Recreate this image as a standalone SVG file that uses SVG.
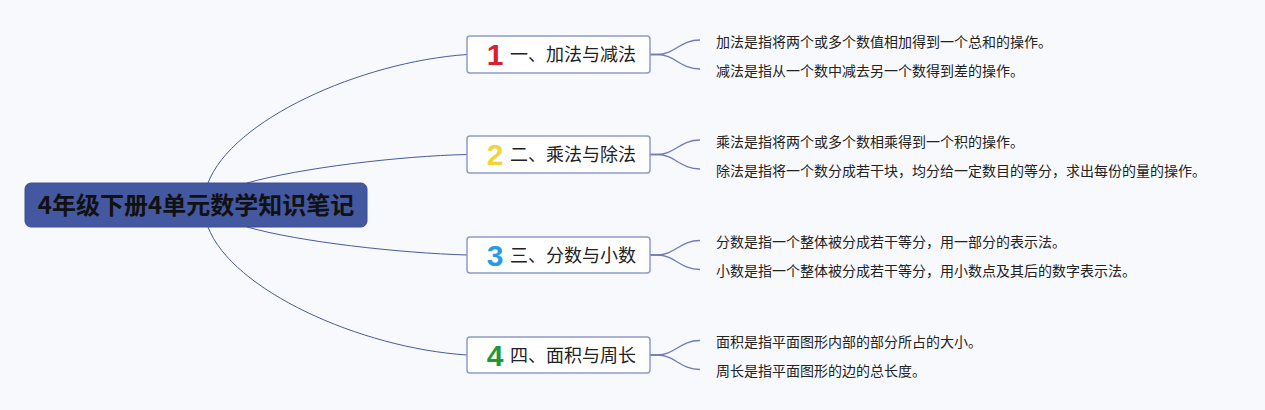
<svg xmlns="http://www.w3.org/2000/svg" width="1265" height="410" viewBox="0 0 1265 410">
<style>
.bg{fill:#f8f9fc}
.root{fill:#4358a0;stroke:#3a4f94;stroke-width:1}
.rootText{font-family:"Noto Sans CJK SC","Liberation Sans",sans-serif;font-weight:bold;font-size:24px;fill:#111;text-anchor:middle}
.box{fill:#ffffff;stroke:#8e9acb;stroke-width:1.5}
.bt{font-family:"Noto Sans CJK SC","Noto Sans",sans-serif;font-size:18px;fill:#222}
.num{font-family:"Liberation Sans","Noto Sans",sans-serif;font-weight:bold;font-size:30px;text-anchor:middle}
.leaf{font-family:"Noto Sans CJK SC","Noto Sans",sans-serif;font-size:14px;fill:#222}
.main{fill:none;stroke:#4a5a98;stroke-width:1}
.sub{fill:none;stroke:#6f7cb6;stroke-width:1.3}
</style>
<rect class="bg" x="0" y="0" width="1265" height="410"/>
<g id="connectors">
<path class="main" d="M208,183 C232,120 360,62 467,54.5"/>
<path class="main" d="M247,183 C300,168 400,156 467,154.5"/>
<path class="main" d="M247,227 C300,242 400,253 467,255"/>
<path class="main" d="M208,227 C232,290 360,348 467,355"/>
<path class="sub" d="M650,54.5 L657,54.5 C675,54.5 680,40 700,40"/>
<path class="sub" d="M650,54.5 L657,54.5 C675,54.5 680,69 700,69"/>
<path class="sub" d="M650,154.5 L657,154.5 C675,154.5 680,140 700,140"/>
<path class="sub" d="M650,154.5 L657,154.5 C675,154.5 680,169 700,169"/>
<path class="sub" d="M650,255 L657,255 C675,255 680,240.5 700,240.5"/>
<path class="sub" d="M650,255 L657,255 C675,255 680,269.5 700,269.5"/>
<path class="sub" d="M650,355 L657,355 C675,355 680,340.5 700,340.5"/>
<path class="sub" d="M650,355 L657,355 C675,355 680,369.5 700,369.5"/>
</g>
<g id="root">
<rect class="root" x="25" y="183" width="342" height="44" rx="6"/>
<text class="rootText" x="196" y="214">4年级下册4单元数学知识笔记</text>
</g>
<g id="branch1">
<rect class="box" x="467" y="36" width="183" height="37" rx="3"/>
<text class="num" x="495" y="65" fill="#d8202f">1</text>
<text class="bt" x="510" y="61">一、加法与减法</text>
</g>
<g id="branch2">
<rect class="box" x="467" y="136" width="183" height="37" rx="3"/>
<text class="num" x="495" y="165" fill="#f1d33c">2</text>
<text class="bt" x="510" y="161">二、乘法与除法</text>
</g>
<g id="branch3">
<rect class="box" x="467" y="237" width="183" height="36" rx="3"/>
<text class="num" x="495" y="266" fill="#2b9be0">3</text>
<text class="bt" x="510" y="261.5">三、分数与小数</text>
</g>
<g id="branch4">
<rect class="box" x="467" y="337" width="183" height="36" rx="3"/>
<text class="num" x="495" y="366" fill="#1e9a34">4</text>
<text class="bt" x="510" y="361.5">四、面积与周长</text>
</g>
<g id="leaf1a"><text class="leaf" x="716" y="47">加法是指将两个或多个数值相加得到一个总和的操作。</text></g>
<g id="leaf1b"><text class="leaf" x="716" y="76">减法是指从一个数中减去另一个数得到差的操作。</text></g>
<g id="leaf2a"><text class="leaf" x="716" y="147">乘法是指将两个或多个数相乘得到一个积的操作。</text></g>
<g id="leaf2b"><text class="leaf" x="716" y="176">除法是指将一个数分成若干块，均分给一定数目的等分，求出每份的量的操作。</text></g>
<g id="leaf3a"><text class="leaf" x="716" y="247">分数是指一个整体被分成若干等分，用一部分的表示法。</text></g>
<g id="leaf3b"><text class="leaf" x="716" y="276">小数是指一个整体被分成若干等分，用小数点及其后的数字表示法。</text></g>
<g id="leaf4a"><text class="leaf" x="716" y="347">面积是指平面图形内部的部分所占的大小。</text></g>
<g id="leaf4b"><text class="leaf" x="716" y="376">周长是指平面图形的边的总长度。</text></g>
</svg>
